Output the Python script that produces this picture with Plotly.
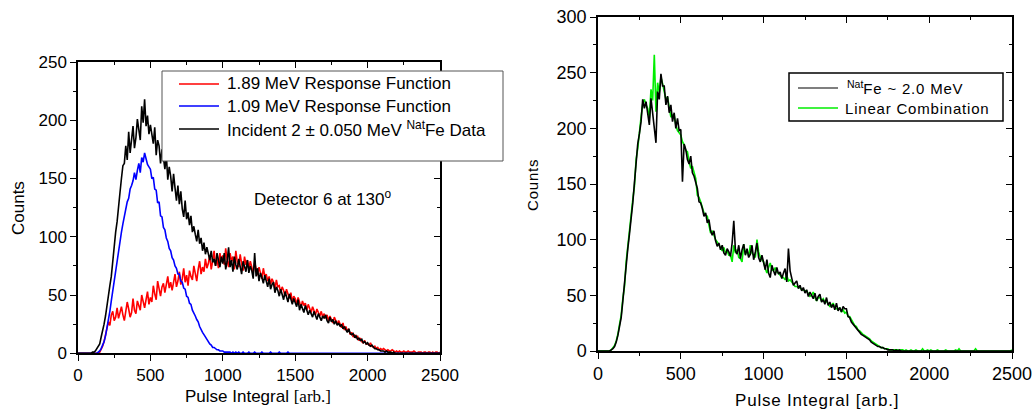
import plotly.graph_objects as go

# ---------------- data (pulse-integral bins every 10 arb. units, 0..2500) ----------------
pulse_integral = list(range(0, 2501, 10))

# Left panel: Detector 6 at 130 deg
resp_189_mev = [
    0, 0, 0, 0, 0, 0, 0, 0, 0, 0,
    0, 0, 0, 0, 0, 1, 3, 6, 10, 15,
    20, 27, 24, 33, 36, 28, 31, 39, 30, 34,
    40, 33, 28, 36, 44, 38, 31, 35, 47, 37,
    34, 45, 41, 37, 50, 43, 39, 46, 53, 42,
    48, 44, 58, 51, 46, 62, 55, 49, 57, 60,
    52, 59, 66, 56, 61, 54, 63, 68, 57, 62,
    70, 59, 64, 73, 61, 67, 58, 71, 66, 63,
    75, 67, 62, 72, 79, 68, 74, 70, 81, 73,
    77, 84, 72, 79, 88, 75, 81, 73, 86, 79,
    84, 76, 90, 80, 74, 86, 79, 83, 72, 88,
    78, 74, 85, 77, 71, 83, 76, 80, 73, 79,
    75, 69, 78, 72, 67, 74, 70, 64, 73, 66,
    68, 62, 66, 59, 64, 61, 55, 63, 57, 58,
    52, 57, 54, 49, 55, 50, 47, 52, 44, 49,
    47, 42, 48, 44, 39, 45, 41, 43, 37, 42,
    39, 35, 40, 36, 33, 38, 34, 32, 36, 31,
    34, 30, 33, 28, 32, 29, 26, 31, 27, 25,
    28, 24, 22, 26, 20, 23, 19, 21, 16, 18,
    14, 16, 13, 15, 11, 13, 10, 9, 11, 8,
    8, 7, 9, 6, 5, 6, 4, 5, 3, 4,
    3, 4, 3, 2, 3, 2, 2, 3, 2, 1,
    2, 1, 2, 1, 1, 2, 1, 1, 2, 1,
    1, 1, 2, 1, 0, 1, 1, 1, 0, 1,
    1, 0, 1, 1, 0, 1, 0, 1, 1, 0,
    1,
]
resp_109_mev = [
    0, 0, 0, 0, 0, 0, 0, 0, 0, 0,
    0, 0, 0, 0, 1, 2, 4, 7, 10, 15,
    21, 28, 36, 45, 54, 62, 71, 80, 88, 97,
    104, 111, 118, 122, 130, 133, 141, 144, 148, 155,
    149, 157, 163, 155, 168, 164, 172, 167, 162, 160,
    158, 150, 151, 141, 140, 129, 130, 118, 117, 108,
    106, 99, 96, 90, 88, 82, 80, 75, 73, 68,
    68, 62, 61, 56, 55, 49, 48, 43, 42, 37,
    35, 32, 29, 27, 23, 20, 18, 16, 14, 11,
    9, 8, 7, 5, 5, 4, 3, 3, 2, 2,
    2, 1, 1, 1, 1, 1, 0, 1, 0, 1,
    0, 1, 0, 0, 1, 0, 0, 0, 1, 0,
    0, 0, 1, 0, 0, 0, 0, 1, 0, 0,
    0, 0, 0, 1, 0, 0, 0, 0, 0, 1,
    0, 0, 0, 0, 0, 1, 0, 0, 0, 0,
    0, 0, 0, 0, 0, 0, 0, 0, 0, 0,
    0, 0, 0, 0, 0, 0, 0, 0, 0, 0,
    0, 0, 0, 0, 0, 0, 0, 0, 0, 0,
    0, 0, 0, 0, 0, 0, 0, 0, 0, 0,
    0, 0, 0, 0, 0, 0, 0, 0, 0, 0,
    0, 0, 0, 0, 0, 0, 0, 0, 0, 0,
    0, 0, 0, 0, 0, 0, 0, 0, 0, 0,
    0, 0, 0, 0, 0, 0, 0, 0, 0, 0,
    0, 0, 0, 0, 0, 0, 0, 0, 0, 0,
    0, 0, 0, 0, 0, 0, 0, 0, 0, 0,
    0,
]
incident_fe_data = [
    0, 0, 0, 0, 0, 0, 0, 0, 0, 0,
    1, 1, 2, 4, 5, 8, 14, 19, 25, 32,
    42, 49, 58, 66, 81, 90, 104, 113, 129, 138,
    150, 161, 163, 178, 166, 190, 172, 182, 195, 176,
    185, 201, 193, 183, 212, 198, 218, 195, 204, 188,
    196, 187, 180, 194, 170, 183, 178, 163, 175, 168,
    158, 170, 149, 160, 152, 139, 154, 142, 131, 144,
    128, 139, 124, 117, 131, 115, 121, 110, 118, 104,
    109, 102, 96, 106, 94, 99, 88, 95, 85, 91,
    84, 80, 88, 78, 81, 75, 86, 79, 74, 83,
    77, 86, 72, 79, 91, 74, 80, 70, 83, 76,
    72, 81, 75, 68, 79, 74, 70, 80, 69, 75,
    71, 64, 86, 66, 73, 62, 69, 65, 60, 67,
    62, 57, 64, 55, 59, 61, 52, 57, 54, 49,
    55, 50, 46, 53, 48, 44, 51, 45, 42, 47,
    43, 40, 46, 37, 42, 39, 35, 41, 36, 33,
    37, 34, 31, 36, 32, 29, 34, 31, 28, 32,
    30, 33, 28, 26, 31, 27, 29, 25, 28, 24,
    26, 23, 25, 21, 23, 20, 18, 21, 17, 16,
    17, 14, 15, 12, 13, 11, 12, 9, 10, 8,
    9, 7, 6, 7, 5, 4, 4, 3, 3, 2,
    2, 2, 1, 2, 1, 1, 1, 0, 1, 0,
    0, 0, 0, 0, 0, 0, 0, 0, 0, 0,
    0, 0, 0, 0, 0, 0, 0, 0, 0, 0,
    0, 0, 0, 0, 0, 0, 0, 0, 0, 0,
    0,
]

# Right panel
natfe_2mev = [
    0, 0, 0, 0, 0, 0, 0, 0, 1, 2,
    4, 8, 14, 22, 30, 45, 62, 76, 92, 105,
    118, 133, 151, 170, 186, 195, 206, 226, 218, 224,
    211, 203, 227, 215, 199, 187, 233, 226, 249, 238,
    238, 221, 229, 214, 221, 206, 214, 200, 209, 198,
    199, 152, 186, 181, 172, 168, 175, 160, 157, 151,
    146, 134, 133, 128, 121, 124, 115, 118, 108, 104,
    108, 99, 94, 97, 91, 95, 88, 86, 92, 89,
    85, 97, 117, 90, 87, 95, 83, 91, 96, 86,
    92, 84, 87, 95, 82, 89, 97, 84, 80, 86,
    79, 73, 82, 70, 66, 77, 72, 68, 75, 69,
    71, 65, 70, 74, 62, 92, 72, 64, 59, 61,
    63, 56, 59, 54, 57, 52, 55, 49, 53, 50,
    47, 52, 45, 49, 51, 44, 46, 42, 48, 41,
    44, 39, 42, 37, 43, 36, 39, 35, 40, 38,
    38, 31, 30, 26, 24, 22, 20, 18, 17, 15,
    14, 13, 12, 11, 10, 8, 7, 6, 5, 4,
    4, 3, 3, 2, 2, 1, 1, 1, 1, 0,
    1, 0, 1, 0, 0, 0, 0, 0, 0, 0,
    0, 0, 0, 0, 0, 0, 0, 0, 0, 0,
    0, 0, 0, 0, 0, 0, 0, 0, 0, 0,
    0, 0, 0, 0, 0, 0, 0, 0, 0, 0,
    0, 0, 0, 0, 0, 0, 0, 0, 0, 0,
    0, 0, 0, 0, 0, 0, 0, 0, 0, 0,
    0, 0, 0, 0, 0, 0, 0, 0, 0, 0,
    0,
]
linear_combination = [
    0, 0, 0, 0, 0, 0, 0, 0, 1, 3,
    5, 9, 15, 24, 32, 47, 58, 80, 95, 108,
    121, 136, 148, 172, 182, 198, 210, 222, 226, 221,
    218, 209, 235, 225, 266, 215, 241, 232, 246, 240,
    232, 226, 228, 217, 210, 212, 212, 203, 198, 196,
    194, 188, 185, 180, 179, 170, 164, 166, 161, 155,
    140, 138, 134, 129, 124, 122, 121, 113, 106, 108,
    104, 100, 98, 95, 92, 90, 93, 88, 90, 86,
    86, 80, 95, 88, 91, 84, 83, 80, 96, 87,
    90, 85, 95, 88, 86, 84, 100, 89, 84, 82,
    80, 74, 70, 75, 79, 73, 72, 75, 71, 70,
    68, 66, 66, 64, 68, 63, 64, 62, 60, 58,
    58, 57, 57, 55, 55, 54, 54, 51, 49, 50,
    53, 48, 45, 48, 48, 45, 47, 44, 45, 42,
    40, 41, 43, 39, 38, 37, 39, 35, 37, 34,
    35, 31, 31, 28, 26, 23, 22, 19, 18, 16,
    15, 14, 13, 12, 11, 9, 8, 7, 6, 5,
    4, 3, 3, 2, 2, 2, 1, 1, 1, 1,
    1, 1, 0, 1, 1, 0, 1, 0, 0, 1,
    0, 0, 1, 0, 0, 0, 2, 0, 0, 1,
    0, 1, 0, 0, 0, 1, 0, 0, 0, 0,
    1, 0, 0, 0, 0, 0, 1, 0, 2, 0,
    0, 0, 0, 0, 0, 0, 0, 0, 2, 0,
    0, 0, 0, 0, 0, 0, 0, 0, 0, 0,
    0, 0, 0, 0, 0, 0, 0, 0, 0, 0,
    1,
]

x_ticks = [0, 500, 1000, 1500, 2000, 2500]
left_y_ticks = [0, 50, 100, 150, 200, 250]
right_y_ticks = [0, 50, 100, 150, 200, 250, 300]

# ---------------- layout helpers ----------------
W, H = 1033, 411
def PX(x):
    return x / W
def PY(y):
    return 1 - y / H

FONT = "Arial, Liberation Sans, sans-serif"

fig = go.Figure()
lw = 1.6
fig.add_trace(go.Scatter(x=pulse_integral, y=resp_189_mev, mode="lines",
                         line=dict(color="#ff0000", width=lw), xaxis="x", yaxis="y", showlegend=False))
fig.add_trace(go.Scatter(x=pulse_integral, y=resp_109_mev, mode="lines",
                         line=dict(color="#0000ff", width=lw), xaxis="x", yaxis="y", showlegend=False))
fig.add_trace(go.Scatter(x=pulse_integral, y=incident_fe_data, mode="lines",
                         line=dict(color="#000000", width=lw), xaxis="x", yaxis="y", showlegend=False))
fig.add_trace(go.Scatter(x=pulse_integral, y=linear_combination, mode="lines",
                         line=dict(color="#00ee00", width=lw), xaxis="x2", yaxis="y2", showlegend=False))
fig.add_trace(go.Scatter(x=pulse_integral, y=natfe_2mev, mode="lines",
                         line=dict(color="#000000", width=lw), xaxis="x2", yaxis="y2", showlegend=False))
# empty traces so the mirrored (inside-tick) axes are drawn
fig.add_trace(go.Scatter(x=[None], y=[None], xaxis="x3", yaxis="y3", showlegend=False, hoverinfo="skip"))
fig.add_trace(go.Scatter(x=[None], y=[None], xaxis="x4", yaxis="y4", showlegend=False, hoverinfo="skip"))

def axis(rng, minor_dtick, tickvals=None, ticks="outside", labels=True, size=17, **kw):
    d = dict(range=rng, showline=True, linecolor="black", linewidth=1.5,
             showgrid=False, zeroline=False, ticks=ticks, ticklen=6, tickwidth=1.2,
             tickcolor="black", automargin=False,
             showticklabels=labels,
             tickfont=dict(family=FONT, size=size, color="black"),
             minor=dict(ticks=ticks, ticklen=3, tickwidth=1.2, tickcolor="black",
                        dtick=minor_dtick, tick0=0, showgrid=False),
             fixedrange=True)
    if tickvals:
        d["tickmode"] = "array"
        d["tickvals"] = tickvals
    else:
        d["tickmode"] = "linear"
        d["dtick"] = minor_dtick * 2
        d["tick0"] = 0
    d.update(kw)
    return d

LXD = [PX(78), PX(440)]
LYD = [PY(353.3), PY(62)]
RXD = [PX(598), PX(1012)]
RYD = [PY(351), PY(17)]

fig.update_layout(
    width=W, height=H, margin=dict(l=0, r=0, t=0, b=0, autoexpand=False),
    paper_bgcolor="white", plot_bgcolor="white", showlegend=False,
    xaxis=axis([0, 2500], 250, tickvals=x_ticks, domain=LXD, anchor="y"),
    yaxis=axis([0, 250], 25, tickvals=left_y_ticks, domain=LYD, anchor="x"),
    xaxis3=axis([0, 2500], 250, ticks="inside", labels=False, overlaying="x", side="top", anchor="y"),
    yaxis3=axis([0, 250], 25, ticks="inside", labels=False, overlaying="y", side="right", anchor="x"),
    xaxis2=axis([0, 2500], 250, tickvals=x_ticks, domain=RXD, anchor="y2", size=18),
    yaxis2=axis([0, 300], 25, tickvals=right_y_ticks, domain=RYD, anchor="x2", size=18),
    xaxis4=axis([0, 2500], 250, ticks="inside", labels=False, overlaying="x2", side="top", anchor="y2"),
    yaxis4=axis([0, 300], 25, ticks="inside", labels=False, overlaying="y2", side="right", anchor="x2"),
)

shapes = []
annotations = []

def txt(x, y, text, size, xanchor="left", angle=0):
    annotations.append(dict(x=PX(x), y=PY(y), xref="paper", yref="paper", text=text,
                            showarrow=False, xanchor=xanchor, yanchor="middle", textangle=angle,
                            font=dict(family=FONT, size=size, color="black")))

def hline(x0, x1, y, color, width=1.5):
    shapes.append(dict(type="line", xref="paper", yref="paper", x0=PX(x0), x1=PX(x1),
                       y0=PY(y), y1=PY(y), line=dict(color=color, width=width), layer="above"))

SPACED = "<span style='letter-spacing:0.8px'>{}</span>"

# Left legend box
shapes.append(dict(type="rect", xref="paper", yref="paper", x0=PX(162), x1=PX(503),
                   y0=PY(161), y1=PY(71), line=dict(color="#555555", width=1),
                   fillcolor="white", layer="above"))
hline(179, 219, 84, "#ff0000")
hline(179, 219, 106, "#0000ff")
hline(179, 219, 129, "#000000")
txt(225, 84, "1.89 MeV Response Function", 17)
txt(225, 106, "1.09 MeV Response Function", 17)
txt(225, 129, "Incident 2 \u00b1 0.050 MeV <sup>Nat</sup>Fe Data", 17)
txt(252, 198, "Detector 6 at 130<sup>o</sup>", 17)

# Right legend box
shapes.append(dict(type="rect", xref="paper", yref="paper", x0=PX(789), x1=PX(1003),
                   y0=PY(121), y1=PY(73), line=dict(color="black", width=1.5),
                   fillcolor="white", layer="above"))
hline(798, 838, 88, "#000000", 1.2)
hline(798, 838, 108, "#00ee00", 1.6)
txt(845, 88, "<sup>Nat</sup>" + SPACED.format("Fe ~ 2.0 MeV"), 15)
txt(843, 108, SPACED.format("Linear Combination"), 15)

# Axis titles
txt(18, 208, "Counts", 17, xanchor="center", angle=-90)
txt(258, 396, "Pulse Integral <span style='font-family:Liberation Serif, Times New Roman, serif'>[arb.]</span>", 17, xanchor="center")
txt(532, 185, SPACED.format("Counts"), 15, xanchor="center", angle=-90)
txt(817, 400, SPACED.format("Pulse Integral [arb.]"), 17, xanchor="center")

fig.update_layout(shapes=shapes, annotations=annotations)
# remove the browser's default 8px page margin so the figure sits at the window origin
fig.write_html("out.html", config={"displayModeBar": False},
               post_script="document.body.style.margin='0';document.body.style.overflow='hidden';")
